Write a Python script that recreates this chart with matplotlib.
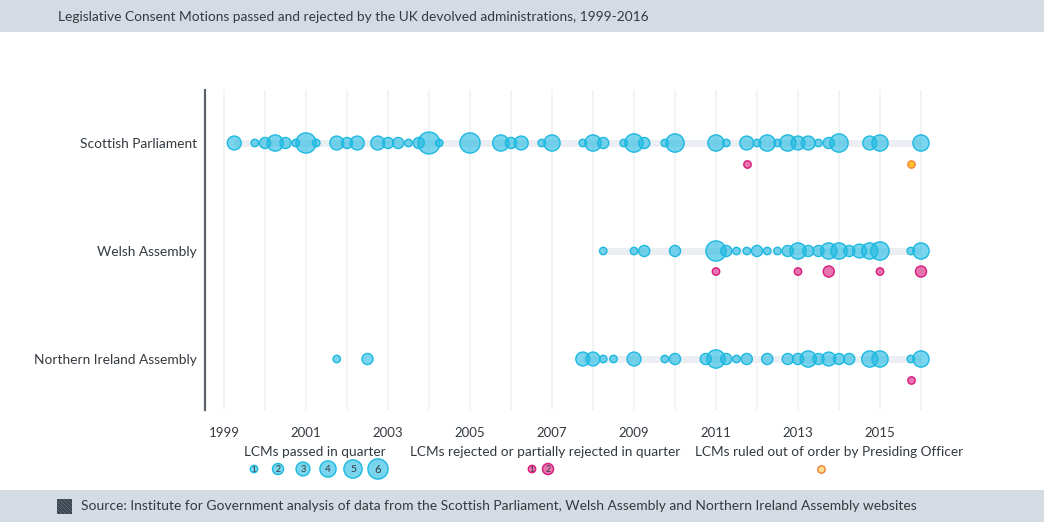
import matplotlib
matplotlib.use('Agg')
import matplotlib.pyplot as plt
from matplotlib.patches import Rectangle
import numpy as np

plt.rcParams['font.family'] = ['Lato', 'DejaVu Sans']

# data: quarter (decimal year, Q1 = .0) and count of motions
rows = ['Scottish Parliament', 'Welsh Assembly', 'Northern Ireland Assembly']

sp_q = [1999.25, 1999.75, 2000.0, 2000.25, 2000.5, 2000.75, 2001.0, 2001.25, 2001.75, 2002.0,
        2002.25, 2002.75, 2003.0, 2003.25, 2003.5, 2003.75, 2004.0, 2004.25, 2005.0, 2005.75,
        2006.0, 2006.25, 2006.75, 2007.0, 2007.75, 2008.0, 2008.25, 2008.75, 2009.0, 2009.25,
        2009.75, 2010.0, 2011.0, 2011.25, 2011.75, 2012.0, 2012.25, 2012.5, 2012.75, 2013.0,
        2013.25, 2013.5, 2013.75, 2014.0, 2014.75, 2015.0, 2016.0]
sp_n = [3, 1, 2, 4, 2, 1, 6, 1, 3, 2,
        3, 3, 2, 2, 1, 2, 7, 1, 6, 4,
        2, 3, 1, 4, 1, 4, 2, 1, 5, 2,
        1, 5, 4, 1, 3, 1, 4, 1, 4, 3,
        3, 1, 2, 5, 3, 4, 4]

wa_q = [2008.25, 2009.0, 2009.25, 2010.0, 2011.0, 2011.25, 2011.5, 2011.75, 2012.0, 2012.25,
        2012.5, 2012.75, 2013.0, 2013.25, 2013.5, 2013.75, 2014.0, 2014.25, 2014.5, 2014.75,
        2015.0, 2015.75, 2016.0]
wa_n = [1, 1, 2, 2, 6, 2, 1, 1, 2, 1,
        1, 2, 4, 2, 2, 4, 4, 2, 3, 4,
        5, 1, 4]

ni_q = [2001.75, 2002.5, 2007.75, 2008.0, 2008.25, 2008.5, 2009.0, 2009.75, 2010.0, 2010.75,
        2011.0, 2011.25, 2011.5, 2011.75, 2012.25, 2012.75, 2013.0, 2013.25, 2013.5, 2013.75,
        2014.0, 2014.25, 2014.75, 2015.0, 2015.75, 2016.0]
ni_n = [1, 2, 3, 3, 1, 1, 3, 1, 2, 2,
        5, 2, 1, 2, 2, 2, 2, 4, 2, 3,
        2, 2, 4, 4, 1, 4]

sp_rej_q = [2011.75]
sp_rej_n = [1]
wa_rej_q = [2011.0, 2013.0, 2013.75, 2015.0, 2016.0]
wa_rej_n = [1, 1, 2, 1, 2]
ni_rej_q = [2015.75]
ni_rej_n = [1]

sp_out_q = [2015.75]
sp_out_n = [1]

band_start = [1999.25, 2008.25, 2007.75]
band_end = [2016.0, 2016.0, 2016.0]

years = list(range(1999, 2017))
tick_years = list(range(1999, 2016, 2))

passed = [(sp_q, sp_n), (wa_q, wa_n), (ni_q, ni_n)]
rejected = [(sp_rej_q, sp_rej_n), (wa_rej_q, wa_rej_n), (ni_rej_q, ni_rej_n)]
ruled_out = [(sp_out_q, sp_out_n), ([], []), ([], [])]

W, H = 1044, 522
fig = plt.figure(figsize=(W / 100, H / 100), dpi=100)
fig.patch.set_facecolor('white')

BLUE = '#1eb9e1'
PINK = '#d81b7c'
ORANGE_E = '#ef7d3c'
ORANGE_F = '#fdb813'
TXT = '#333a40'
BAR = '#d4dbe2'
LW = 1.4
BLUE_F = (0.118, 0.725, 0.882, 0.6)
PINK_F = (0.847, 0.106, 0.486, 0.6)


def size(n):
    d = 8.8 * np.sqrt(np.asarray(n, dtype=float)) - LW
    return (0.72 * d) ** 2


# background overlay axes in pixel coords
bg = fig.add_axes([0, 0, 1, 1])
bg.set_xlim(0, W)
bg.set_ylim(H, 0)
bg.axis('off')
bg.add_patch(Rectangle((0, 0), W, 32, color=BAR, lw=0))
bg.add_patch(Rectangle((0, 490), W, 32, color=BAR, lw=0))

# striped logo square
logo = Rectangle((57, 499), 14.5, 14.5, facecolor='#8f99a3', lw=0)
bg.add_patch(logo)
for k in range(-3, 5):
    ln, = bg.plot([57 + k * 4 - 4, 57 + k * 4 + 18.5], [495, 517.5], color='#3e4852', lw=1.9,
                  solid_capstyle='butt')
    ln.set_clip_path(logo)

bg.text(58, 17, 'Legislative Consent Motions passed and rejected by the UK devolved administrations, 1999-2016',
        fontsize=9.9, color=TXT, va='center', ha='left')
bg.text(81, 506, 'Source: Institute for Government analysis of data from the Scottish Parliament, '
        'Welsh Assembly and Northern Ireland Assembly websites',
        fontsize=10.0, color=TXT, va='center', ha='left')

# main axes: spine at x=205, top 90, bottom 410
x0, x1, y0, y1 = 205, 960, 90, 410
ax = fig.add_axes([x0 / W, 1 - y1 / H, (x1 - x0) / W, (y1 - y0) / H])
px_year = 41.0
ax.set_xlim(1999 - (224 - x0) / px_year, 1999 + (x1 - 224) / px_year)
row_px = 108.0
ax.set_ylim(2 + (y1 - 359) / row_px, -(143 - y0) / row_px)
ax.set_facecolor('none')
for s in ['top', 'right', 'bottom']:
    ax.spines[s].set_visible(False)
ax.spines['left'].set_color('#5a636b')
ax.spines['left'].set_linewidth(1.6)

for y in years:
    ax.axvline(y, color='#eef2f4', lw=1.2, zorder=0)

off = 0.19
for i in range(3):
    ax.plot([band_start[i], band_end[i]], [i, i], color='#ebeff3', lw=5, zorder=1,
            solid_capstyle='butt')
    q, n = passed[i]
    ax.scatter(q, [i] * len(q), s=size(n), facecolor=BLUE_F,
               edgecolor=BLUE, linewidth=LW * 0.72, zorder=3)
    q, n = rejected[i]
    if q:
        ax.scatter(q, [i + off] * len(q), s=size(n), facecolor=PINK_F,
                   edgecolor=PINK, linewidth=LW * 0.72, zorder=3)
    q, n = ruled_out[i]
    if q:
        ax.scatter(q, [i + off] * len(q), s=size(n), facecolor=ORANGE_F, alpha=0.9,
                   edgecolor=ORANGE_E, linewidth=LW * 0.72, zorder=3)

ax.set_yticks(range(3))
ax.set_yticklabels(rows, fontsize=9.9, color=TXT)
ax.tick_params(axis='y', length=0, pad=6)
ax.set_xticks(tick_years)
ax.set_xticklabels([str(y) for y in tick_years], fontsize=9.5, color=TXT)
ax.tick_params(axis='x', length=0, pad=12)

# legend
bg.text(315, 452, 'LCMs passed in quarter', fontsize=9.8, color=TXT, ha='center', va='center')
bg.text(545, 452, 'LCMs rejected or partially rejected in quarter', fontsize=9.8, color=TXT,
        ha='center', va='center')
bg.text(829, 452, 'LCMs ruled out of order by Presiding Officer', fontsize=9.8, color=TXT,
        ha='center', va='center')

leg_n = [1, 2, 3, 4, 5, 6]
leg_x = [254, 278, 303, 328, 353, 378]
bg.scatter(leg_x, [469] * 6, s=size(leg_n), facecolor=BLUE_F,
           edgecolor=BLUE, linewidth=LW * 0.72, zorder=3)
for xx, n in zip(leg_x, leg_n):
    bg.text(xx, 469.5, str(n), fontsize=5.5 + 0.4 * n, color=TXT, ha='center', va='center', zorder=4)
pk_n = [1, 2]
pk_x = [532, 548]
bg.scatter(pk_x, [469] * 2, s=size(pk_n), facecolor=PINK_F,
           edgecolor=PINK, linewidth=LW * 0.72, zorder=3)
for xx, n in zip(pk_x, pk_n):
    bg.text(xx, 469.5, str(n), fontsize=5.5 + 0.4 * n, color=TXT, ha='center', va='center', zorder=4)
bg.scatter([821], [469], s=size([1]), facecolor='#fde08a', edgecolor=ORANGE_E,
           linewidth=LW * 0.72, zorder=3)

fig.savefig('out.png', dpi=100)
